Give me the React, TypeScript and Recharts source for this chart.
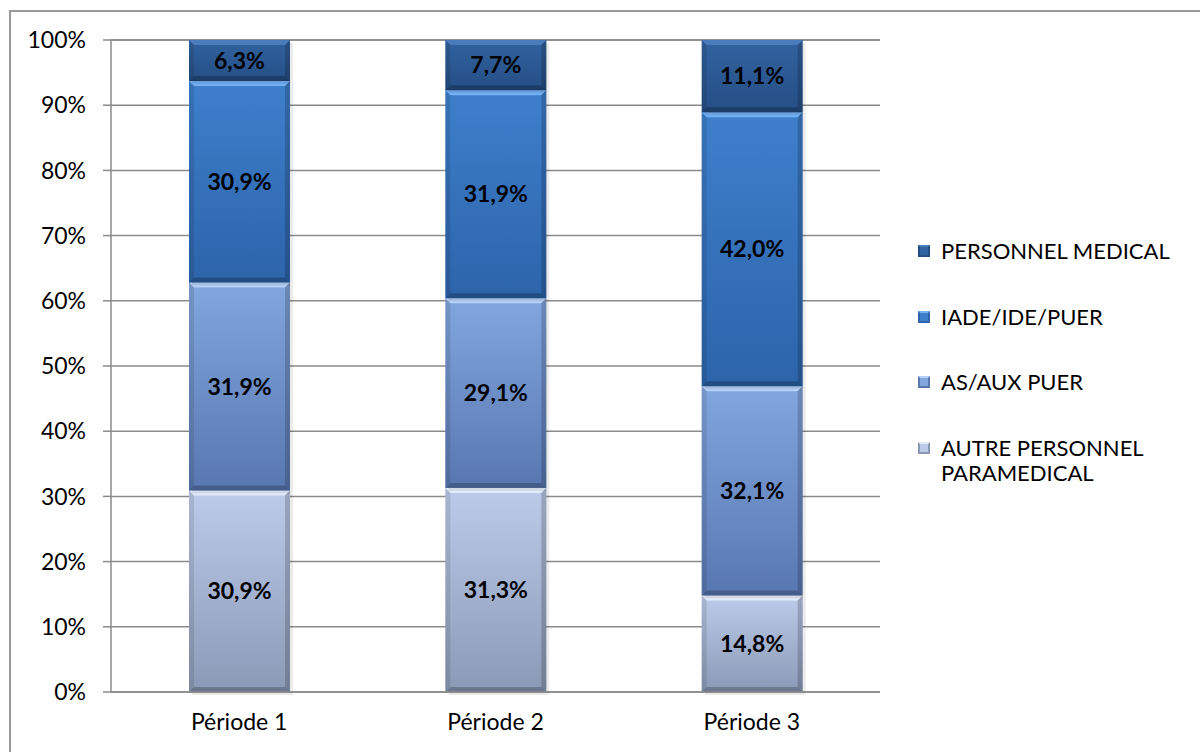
import { BarChart, Bar, XAxis, YAxis, CartesianGrid, LabelList } from 'recharts';

const periods = ['Période 1', 'Période 2', 'Période 3'];
const autre = [30.9, 31.3, 14.8];
const asAux = [31.9, 29.1, 32.1];
const iade = [30.9, 31.9, 42.0];
const medical = [6.3, 7.7, 11.1];
const yTicks = [0, 10, 20, 30, 40, 50, 60, 70, 80, 90, 100];

const series = [
    { key: 'autre', name: 'AUTRE PERSONNEL PARAMEDICAL', top: '#bccbe9', bottom: '#8a99b6', bevel: '#e3ecfb' },
    { key: 'asAux', name: 'AS/AUX PUER', top: '#82a6de', bottom: '#5877b0', bevel: '#b6d0f6' },
    { key: 'iade', name: 'IADE/IDE/PUER', top: '#3e7fcc', bottom: '#2d64aa', bevel: '#74b0f4' },
    { key: 'medical', name: 'PERSONNEL MEDICAL', top: '#3163a0', bottom: '#254e85', bevel: '#4a7cbc' },
];

const data = periods.map((p, i) => ({
    name: p,
    autre: autre[i],
    asAux: asAux[i],
    iade: iade[i],
    medical: medical[i],
}));

const FONT = 'Lato, "Open Sans", sans-serif';

function Segment(props: any) {
    const { x, y, width: w, height: h, s } = props;
    if (!h || h <= 0) return null;
    const b = 5;
    return (
        <g>
            <rect x={x + 3} y={y + 3} width={w} height={h} fill="#000" opacity={0.08} />
            <rect x={x} y={y} width={w} height={h} fill={`url(#grad-${s.key})`} />
            <polygon points={`${x},${y} ${x + w},${y} ${x + w - b},${y + b} ${x + b},${y + b}`} fill={s.bevel} />
            <polygon points={`${x},${y} ${x + b},${y + b} ${x + b},${y + h - b} ${x},${y + h}`} fill="#000" opacity={0.1} />
            <polygon points={`${x + w},${y} ${x + w - b},${y + b} ${x + w - b},${y + h - b} ${x + w},${y + h}`} fill="#000" opacity={0.18} />
            <polygon points={`${x},${y + h} ${x + w},${y + h} ${x + w - b},${y + h - b} ${x + b},${y + h - b}`} fill="#000" opacity={0.22} />
        </g>
    );
}

function LegendBox() {
    const items = [...series].reverse();
    const tops = [0, 66, 131, 197];
    return (
        <div style={{ position: 'absolute', left: 918, top: 238, width: 270, fontFamily: FONT, fontSize: 22, color: '#000' }}>
            {items.map((s, i) => (
                <div key={s.key} style={{ position: 'absolute', left: 0, top: tops[i], display: 'flex', alignItems: 'flex-start' }}>
                    <svg width={12} height={12} style={{ marginTop: 7, marginRight: 11, flexShrink: 0 }}>
                        <rect x={0} y={0} width={12} height={12} fill={s.bottom} />
                        <rect x={2} y={2} width={8} height={8} fill={s.top} />
                        <polygon points="0,0 12,0 10,2 2,2" fill={s.bevel} />
                    </svg>
                    <span style={{ lineHeight: '25px', width: 240 }}>{s.name}</span>
                </div>
            ))}
        </div>
    );
}

const fmt = (v: any) => `${Number(v).toFixed(1).replace('.', ',')}%`;

export default function App() {
    return (
        <div style={{ position: 'absolute', left: 0, top: 0, width: 1200, height: 752, background: '#fff', overflow: 'hidden' }}>
            <div style={{ position: 'absolute', left: 9, top: 10, width: 1200, height: 760, border: '2px solid #9a9a9a' }} />
            <div style={{ position: 'absolute', left: 0, top: 0 }}>
                <BarChart width={1200} height={752} data={data} margin={{ top: 40, right: 320, bottom: 0, left: 0 }} barSize={101}>
                    <defs>
                        {series.map((s) => (
                            <linearGradient key={s.key} id={`grad-${s.key}`} x1="0" y1="0" x2="0" y2="1">
                                <stop offset="0%" stopColor={s.top} />
                                <stop offset="100%" stopColor={s.bottom} />
                            </linearGradient>
                        ))}
                    </defs>
                    <CartesianGrid vertical={false} stroke="#8a8a8a" strokeWidth={1.5} />
                    <XAxis
                        dataKey="name"
                        height={60}
                        tickLine={false}
                        axisLine={{ stroke: '#8a8a8a', strokeWidth: 1.5 }}
                        tick={{ fill: '#000', fontSize: 23, fontFamily: FONT }}
                        tickMargin={16}
                    />
                    <YAxis
                        width={111}
                        domain={[0, 100]}
                        ticks={yTicks}
                        interval={0}
                        tickFormatter={(v) => `${v}%`}
                        axisLine={{ stroke: '#8a8a8a', strokeWidth: 1.5 }}
                        tickLine={{ stroke: '#8a8a8a', strokeWidth: 1.5 }}
                        tickSize={8}
                        tickMargin={17}
                        tick={{ fill: '#000', fontSize: 23, fontFamily: FONT }}
                    />
                    {series.map((s) => (
                        <Bar
                            key={s.key}
                            dataKey={s.key}
                            name={s.name}
                            stackId="a"
                            fill={s.top}
                            isAnimationActive={false}
                            shape={(p: any) => <Segment {...p} s={s} />}
                        >
                            <LabelList
                                dataKey={s.key}
                                position="center"
                                formatter={fmt}
                                style={{ fill: '#000', fontSize: 23, fontWeight: 700, fontFamily: FONT }}
                            />
                        </Bar>
                    ))}
                </BarChart>
            </div>
            <LegendBox />
        </div>
    );
}
